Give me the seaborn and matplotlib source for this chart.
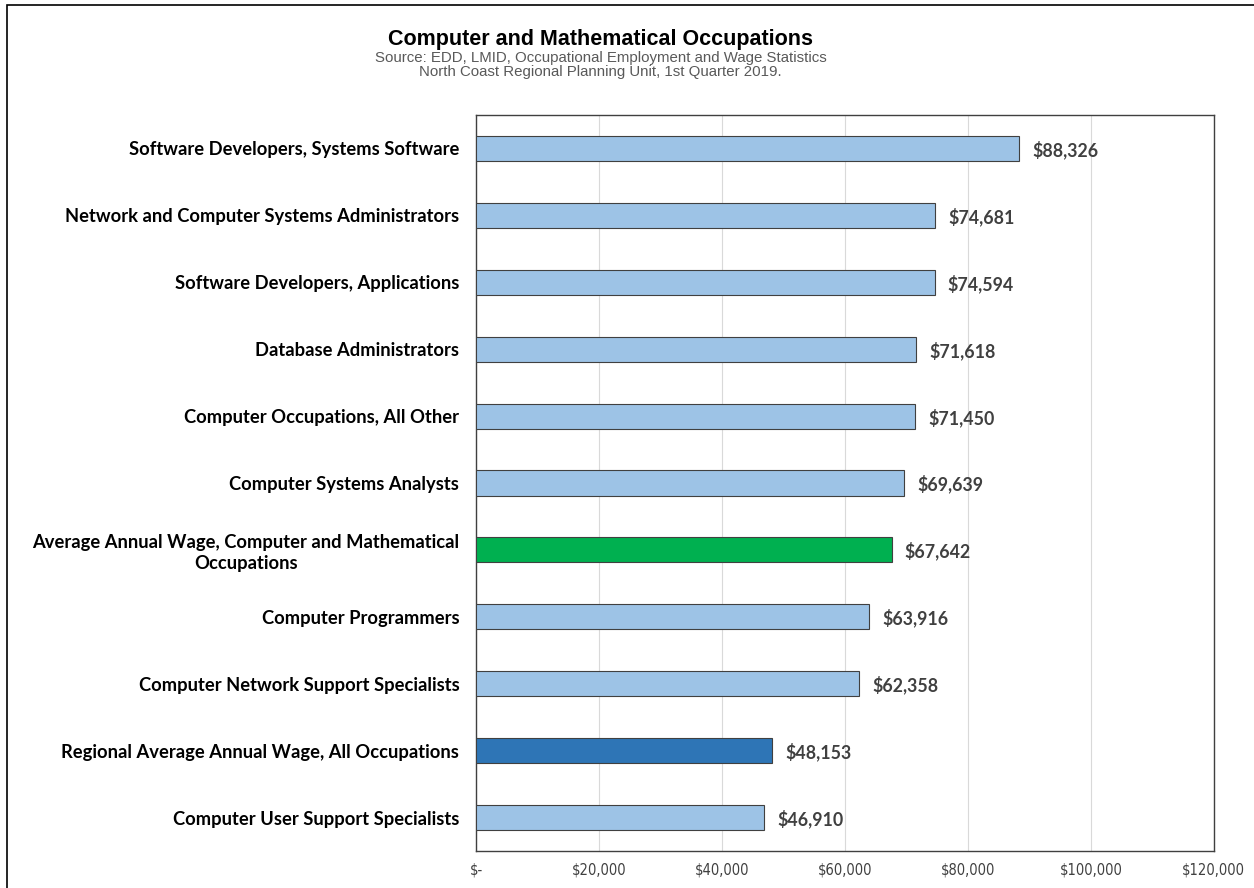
import matplotlib
matplotlib.use('Agg')

import matplotlib.pyplot as plt
import seaborn as sns
import pandas as pd
from matplotlib.ticker import FuncFormatter

# data
occupations = [
    "Software Developers, Systems Software",
    "Network and Computer Systems Administrators",
    "Software Developers, Applications",
    "Database Administrators",
    "Computer Occupations, All Other",
    "Computer Systems Analysts",
    "Average Annual Wage, Computer and Mathematical\nOccupations",
    "Computer Programmers",
    "Computer Network Support Specialists",
    "Regional Average Annual Wage, All Occupations",
    "Computer User Support Specialists",
]
wages = [88326, 74681, 74594, 71618, 71450, 69639, 67642, 63916, 62358, 48153, 46910]
kinds = ["occ", "occ", "occ", "occ", "occ", "occ", "avg", "occ", "occ", "region", "occ"]
x_ticks = [0, 20000, 40000, 60000, 80000, 100000, 120000]

palette = {"occ": "#9DC3E6", "avg": "#00B050", "region": "#2E75B6"}

df = pd.DataFrame({"occupation": occupations, "wage": wages, "kind": kinds})

sns.set_theme(style="white")
plt.rcParams['font.family'] = ['Lato', 'DejaVu Sans']

fig = plt.figure(figsize=(12.54, 8.88), dpi=100)
ax = fig.add_axes([0.3796, 0.0417, 0.968 - 0.3796, 0.8705 - 0.0417])

sns.barplot(data=df, y="occupation", x="wage", hue="kind", palette=palette,
            dodge=False, width=0.375, saturation=1, edgecolor="#404040",
            linewidth=0.8, legend=False, ax=ax, zorder=3)

ax.set_xlim(0, 120000)
ax.set_xticks(x_ticks)
ax.xaxis.set_major_formatter(FuncFormatter(lambda v, p: "$-" if v == 0 else f"${v:,.0f}"))
ax.grid(axis="x", color="#D9D9D9", linewidth=0.8, zorder=0)
ax.grid(axis="y", visible=False)
ax.set_xlabel("")
ax.set_ylabel("")

for s in ax.spines.values():
    s.set_color("#404040")
    s.set_linewidth(1.0)

ax.tick_params(axis="x", length=0, pad=8, colors="#404040")
for lbl in ax.get_xticklabels():
    lbl.set_fontfamily(['DejaVu Sans'])
    lbl.set_fontstretch("condensed")
    lbl.set_fontsize(10.5)
ax.tick_params(axis="y", length=0, pad=12)
for lbl in ax.get_yticklabels():
    lbl.set_fontweight("bold")
    lbl.set_fontsize(13.2)
    lbl.set_color("#000000")
    lbl.set_multialignment("center")
    lbl.set_linespacing(1.25)

# value labels
for i, w in enumerate(wages):
    ax.text(w + 2100, i + 0.02, f"${w:,}", va="center", ha="left",
            fontsize=12.8, fontweight="bold", color="#404040")

# titles
fig.text(0.479, 0.956, "Computer and Mathematical Occupations", ha="center", va="center",
         fontsize=15.5, fontweight="bold", color="black",
         family=['Liberation Sans', 'DejaVu Sans'])
fig.text(0.479, 0.927, "Source: EDD, LMID, Occupational Employment and Wage Statistics\n"
         "North Coast Regional Planning Unit, 1st Quarter 2019.", ha="center", va="center",
         fontsize=10.8, color="#595959", linespacing=0.95,
         family=['Liberation Sans', 'DejaVu Sans'])

# outer frame
fig.patches.append(plt.Rectangle((0.0056, -0.01), 0.999, 1.004, transform=fig.transFigure,
                                 fill=False, edgecolor="black", linewidth=1.2))

fig.savefig("out.png", dpi=100)
plt.close(fig)
